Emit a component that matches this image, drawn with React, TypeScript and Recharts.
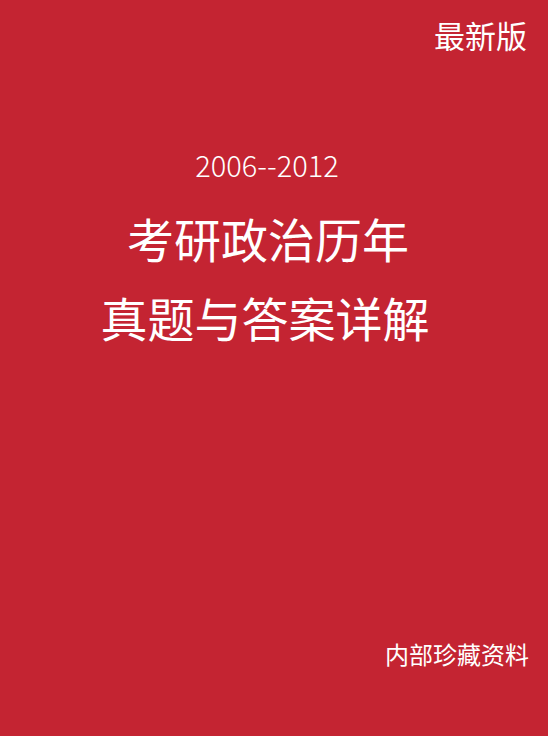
import React from "react";
import { ComposedChart, XAxis, YAxis, Customized } from "recharts";

const titleLines = ["考研政治历年", "真题与答案详解"];
const yearRange = "2006--2012";
const badge = "最新版";
const footer = "内部珍藏资料";

const W = 548;
const H = 736;
const font = "'Noto Sans CJK SC', 'Noto Sans', sans-serif";

function Cover() {
  return (
    <g>
      <rect x={0} y={0} width={W} height={H} fill="#C42432" />
      <text x={527} y={48} textAnchor="end" fill="#fff" fontSize={31} fontFamily={font}>{badge}</text>
      <text x={267} y={177} textAnchor="middle" fill="#fff" fontSize={29} fontFamily={font} fontWeight={300}>{yearRange}</text>
      <text x={268} y={258} textAnchor="middle" fill="#fff" fontSize={47} fontFamily={font}>{titleLines[0]}</text>
      <text x={265} y={337} textAnchor="middle" fill="#fff" fontSize={47} fontFamily={font}>{titleLines[1]}</text>
      <text x={529} y={664} textAnchor="end" fill="#fff" fontSize={24} fontFamily={font}>{footer}</text>
    </g>
  );
}

export default function App() {
  return (
    <div style={{ position: "absolute", left: 0, top: 0, width: W, height: H }}>
      <ComposedChart width={W} height={H} data={[]} margin={{ top: 0, right: 0, bottom: 0, left: 0 }}>
        <XAxis hide />
        <YAxis hide />
        <Customized component={Cover} />
      </ComposedChart>
    </div>
  );
}
